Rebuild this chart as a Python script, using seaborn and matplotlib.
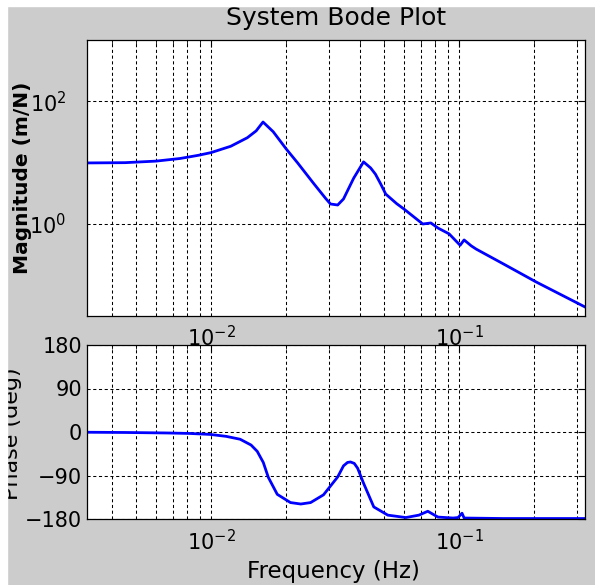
import matplotlib
matplotlib.use("Agg")
import matplotlib.pyplot as plt
from matplotlib.patches import Rectangle
from matplotlib.ticker import FixedLocator, LogLocator, NullLocator, NullFormatter
import numpy as np
import pandas as pd
import seaborn as sns

sns.set_theme(style="white")
plt.rcParams['font.family'] = ['DejaVu Sans']

# magnitude curve
mag_freq_hz = [0.00315, 0.0045, 0.0060, 0.0075, 0.0089, 0.0100, 0.0120, 0.0140, 0.0152,
               0.0162, 0.0178, 0.0201, 0.0223, 0.0259, 0.0290, 0.0303, 0.0324, 0.0342,
               0.0376, 0.0412, 0.0440, 0.0460, 0.0483, 0.0506, 0.0560, 0.0599, 0.0714,
               0.0770, 0.0822, 0.0912, 0.1010, 0.1048, 0.1120, 0.1172, 0.1520, 0.2050,
               0.3270]
mag_m_per_n = [9.9, 10.0, 10.6, 11.7, 13.2, 14.6, 18.5, 25.5, 33.0,
               46.0, 32.0, 16.7, 10.0, 4.6, 2.6, 2.12, 2.04, 2.56,
               5.6, 10.3, 8.2, 6.5, 4.5, 3.08, 2.15, 1.76, 1.0,
               1.04, 0.86, 0.69, 0.45, 0.55, 0.44, 0.39, 0.22, 0.113,
               0.043]

# phase curve
phase_freq_hz = [0.00315, 0.0045, 0.0066, 0.0082, 0.0099, 0.0115, 0.0131, 0.0145, 0.01535,
                 0.01624, 0.01702, 0.01849, 0.0209, 0.0230, 0.0252, 0.0284, 0.0324, 0.0342,
                 0.0355, 0.0365, 0.0378, 0.0390, 0.0412, 0.0453, 0.0516, 0.0610, 0.0689,
                 0.0748, 0.0822, 0.0946, 0.0991, 0.1028, 0.1048, 0.1500, 0.3270]
phase_deg = [-0.5, -1, -2, -3, -5, -9, -15, -27, -40,
             -63, -94, -129, -146, -149, -146, -130, -93, -70,
             -63, -62, -65, -75, -106, -155, -172, -177, -172,
             -164, -176, -178, -177, -168, -178, -179, -179]

freq_ticks = [0.01, 0.1]
mag_ticks = [1, 100]
phase_ticks = [-180, -90, 0, 90, 180]

bg_grey = "#cccccc"
line_blue = "#0000ff"
grid_dots = (0, (3, 2.5))

W, H = 595, 585
fig = plt.figure(figsize=(W / 100, H / 100), dpi=100, facecolor=bg_grey)
ax_mag = fig.add_axes([87 / W, 1 - 316 / H, 498 / W, 276 / H])
ax_ph = fig.add_axes([87 / W, 1 - 519 / H, 498 / W, 174 / H])

ax_mag.set(xscale="log", yscale="log")
ax_ph.set(xscale="log")

df_mag = pd.DataFrame({"freq": mag_freq_hz, "mag": mag_m_per_n})
df_ph = pd.DataFrame({"freq": phase_freq_hz, "phase": phase_deg})
sns.lineplot(data=df_mag, x="freq", y="mag", ax=ax_mag, color=line_blue, linewidth=2.0, sort=False)
sns.lineplot(data=df_ph, x="freq", y="phase", ax=ax_ph, color=line_blue, linewidth=2.0, sort=False)


def style_axes(ax):
    ax.set_facecolor("white")
    for s in ax.spines.values():
        s.set_visible(True)
        s.set_color("black")
        s.set_linewidth(0.9)
    ax.set_xlim(0.00316, 0.322)
    ax.xaxis.set_major_locator(FixedLocator(freq_ticks))
    ax.xaxis.set_minor_locator(LogLocator(base=10, subs=np.arange(2, 10), numticks=20))
    ax.xaxis.set_minor_formatter(NullFormatter())
    ax.grid(True, which="major", color="black", linestyle=grid_dots, linewidth=0.75)
    ax.grid(True, which="minor", axis="x", color="black", linestyle=grid_dots, linewidth=0.75)
    ax.tick_params(which="both", direction="in", top=True, right=True, labelsize=15,
                   color="black", labelcolor="black")
    ax.tick_params(which="major", length=5, width=0.8)
    ax.tick_params(which="minor", length=3, width=0.6)
    ax.set_xlabel("")
    ax.set_ylabel("")


style_axes(ax_mag)
style_axes(ax_ph)

ax_mag.set_ylim(10 ** -1.5, 1e3)
ax_mag.yaxis.set_major_locator(FixedLocator(mag_ticks))
ax_mag.yaxis.set_minor_locator(NullLocator())
ax_mag.tick_params(axis="y", pad=15)
ax_mag.tick_params(axis="x", pad=6.5)

ax_ph.set_ylim(-180, 180)
ax_ph.yaxis.set_major_locator(FixedLocator(phase_ticks))
ax_ph.tick_params(axis="y", pad=3.5)
ax_ph.tick_params(axis="x", pad=7)

ax_mag.set_title("System Bode Plot", fontsize=18, pad=10.5, color="black")
ax_mag.set_ylabel("Magnitude (m/N)", fontsize=14.5, fontweight="bold", color="black")
ax_mag.yaxis.set_label_coords(-0.110, 0.5)
ax_ph.set_ylabel("Phase (deg)", fontsize=16, color="black")
ax_ph.yaxis.set_label_coords(-0.1305, 0.491)
ax_ph.set_xlabel("Frequency (Hz)", fontsize=16.5, color="black")
ax_ph.xaxis.set_label_coords(0.495, -0.236)

# white screenshot border along the top and left edge
fig.add_artist(Rectangle((0, 0), 7 / W, 1, transform=fig.transFigure, color="white", zorder=10))
fig.add_artist(Rectangle((0, 1 - 6 / H), 1, 6 / H, transform=fig.transFigure, color="white", zorder=10))

fig.savefig("out.png", dpi=100, facecolor=fig.get_facecolor())
